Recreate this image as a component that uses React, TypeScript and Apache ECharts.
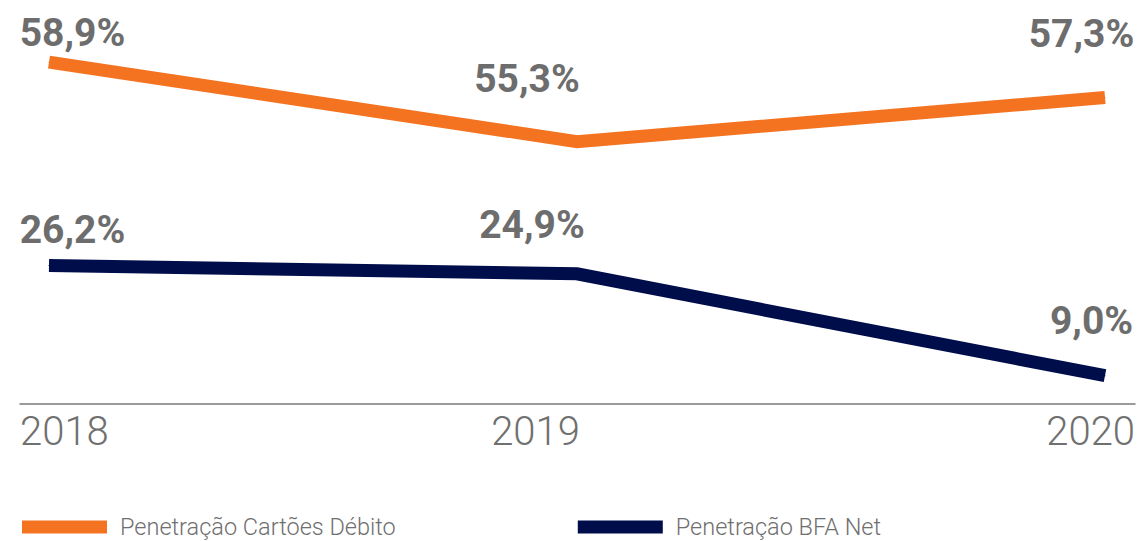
import React, { useEffect, useRef } from "react";
import * as echarts from "echarts";

const years = ["2018", "2019", "2020"];
const cartoesDebito = [58.9, 55.3, 57.3];
const bfaNet = [26.2, 24.9, 9.0];
const seriesNames = ["Penetração Cartões Débito", "Penetração BFA Net"];

const ORANGE = "#f47321";
const NAVY = "#000d4b";
const GRAY = "#6d6d6d";

const fmt = (v: number) => v.toFixed(1).replace(".", ",") + "%";

const orangeOffsets: [number, number][] = [[23.5, -9], [-50, -42.6], [-23.5, -43.4]];
const navyOffsets: [number, number][] = [[23.5, -14.5], [-45, -27.8], [-13.5, -34.7]];

export default function App() {
  const ref = useRef<HTMLDivElement>(null);
  useEffect(() => {
    if (!ref.current) return;
    const chart = echarts.init(ref.current, null, { renderer: "svg" });
    const labelBase = {
      show: true,
      position: "top",
      distance: 0,
      fontFamily: "Roboto",
      fontWeight: "bold",
      fontSize: 39,
      lineHeight: 40,
      color: GRAY,
      formatter: (p: any) => fmt(p.value),
    };
    const mk = (vals: number[], offs: [number, number][]) =>
      vals.map((v, i) => ({ value: v, label: { offset: offs[i] } }));
    chart.setOption({
      animation: false,
      grid: [
        { left: 49, right: 35, top: 40, bottom: 137 },
        { left: 20, right: 5, top: 40, bottom: 137 },
      ],
      legend: {
        left: 22,
        top: 515,
        padding: 0,
        icon: "rect",
        itemWidth: 85,
        itemHeight: 13,
        itemGap: 182,
        textStyle: {
          fontFamily: "Roboto",
          fontWeight: 300,
          fontSize: 23.5,
          color: "#6f6f6f",
          padding: [0, 0, 0, 8],
        },
        data: seriesNames,
      },
      xAxis: [
        {
          type: "category",
          gridIndex: 0,
          data: years,
          boundaryGap: false,
          show: false,
        },
        {
          type: "category",
          gridIndex: 1,
          data: years,
          boundaryGap: false,
          axisLine: { show: true, lineStyle: { color: "#7a7a7a", width: 1.5 } },
          axisTick: { show: false },
          axisLabel: {
            margin: 7,
            fontFamily: "Roboto",
            fontWeight: 300,
            fontSize: 40,
            color: "#707070",
            alignMinLabel: "left",
            alignMaxLabel: "right",
            formatter: (v: string, i: number) => (i === 1 ? "{m|" + v + "}" : v),
            rich: {
              m: {
                fontFamily: "Roboto",
                fontWeight: 300,
                fontSize: 40,
                color: "#707070",
                padding: [0, 84, 0, 0],
              },
            },
          },
        },
      ],
      yAxis: [
        { type: "value", gridIndex: 0, min: 43.43, max: 59.9, show: false },
        { type: "value", gridIndex: 0, min: 4.59, max: 61.37, show: false },
        { type: "value", gridIndex: 1, min: 0, max: 1, show: false },
      ],
      series: [
        {
          name: seriesNames[0],
          type: "line",
          xAxisIndex: 0,
          yAxisIndex: 0,
          data: mk(cartoesDebito, orangeOffsets),
          symbol: "circle",
          symbolSize: 1,
          itemStyle: { color: ORANGE },
          lineStyle: { color: ORANGE, width: 13, join: "miter", cap: "butt" },
          label: labelBase,
        },
        {
          name: seriesNames[1],
          type: "line",
          xAxisIndex: 0,
          yAxisIndex: 1,
          data: mk(bfaNet, navyOffsets),
          symbol: "circle",
          symbolSize: 1,
          itemStyle: { color: NAVY },
          lineStyle: { color: NAVY, width: 13, join: "miter", cap: "butt" },
          label: labelBase,
        },
      ],
    });
    return () => chart.dispose();
  }, []);
  return (
    <div
      ref={ref}
      style={{ position: "fixed", left: 0, top: 0, width: 1140, height: 541, background: "#fff" }}
    />
  );
}
